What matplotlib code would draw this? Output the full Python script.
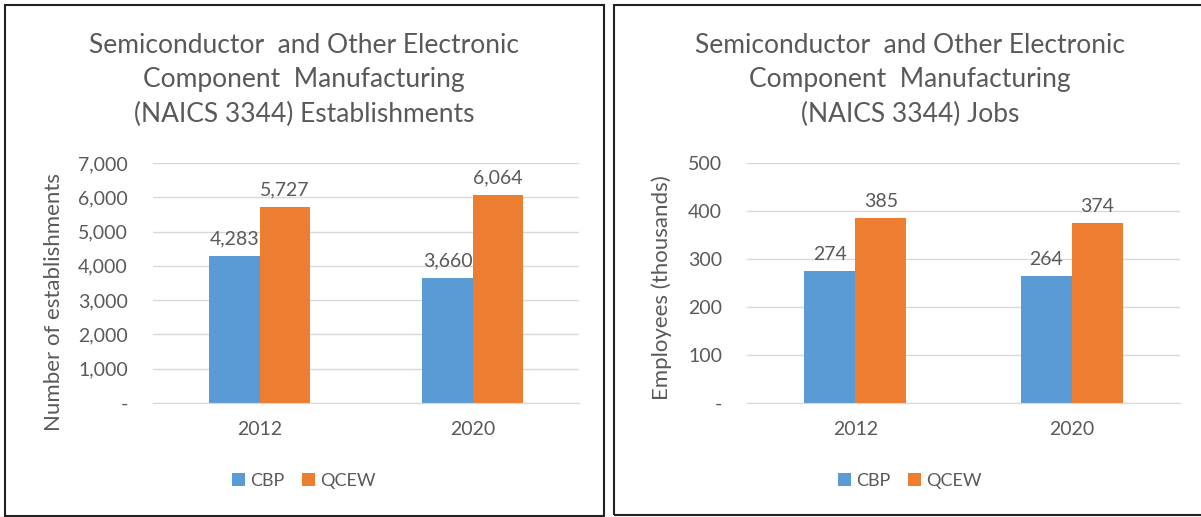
import matplotlib.pyplot as plt
import numpy as np
from matplotlib.patches import Rectangle
from matplotlib.ticker import FuncFormatter

years = ['2012', '2020']
series = ['CBP', 'QCEW']
est_cbp = [4283, 3660]
est_qcew = [5727, 6064]
jobs_cbp = [274, 264]
jobs_qcew = [385, 374]

blue = '#5B9BD5'
orange = '#ED7D31'
txt = '#595959'
grid = '#D9D9D9'

plt.rcParams['font.family'] = ['Lato', 'DejaVu Sans']

def fmt(v, pos):
	if v == 0:
		return '-'
	return '{:,.0f}'.format(v)

def draw(ax, cbp, qcew, ymax, step, ylabel, ylpos, title, tx):
	x = np.arange(len(years))
	w = 0.235
	b1 = ax.bar(x - w/2, cbp, w, color=blue, label=series[0])
	b2 = ax.bar(x + w/2, qcew, w, color=orange, label=series[1])
	for bars, vals in ((b1, cbp), (b2, qcew)):
		for r, v in zip(bars, vals):
			ax.annotate('{:,}'.format(v), (r.get_x() + r.get_width()/2, v),
						xytext=(0, 6), textcoords='offset points', ha='center', va='bottom',
						fontsize=14, color=txt)
	ax.set_xlim(-0.5, 1.5)
	ax.set_ylim(0, ymax)
	ax.set_yticks(np.arange(0, ymax + 1, step))
	ax.yaxis.set_major_formatter(FuncFormatter(fmt))
	ax.set_xticks(x)
	ax.set_xticklabels(years)
	ax.tick_params(axis='y', length=0, pad=18, labelsize=14, labelcolor=txt)
	ax.tick_params(axis='x', length=0, pad=13, labelsize=14, labelcolor=txt)
	ax.grid(axis='y', color=grid, linewidth=1)
	ax.set_axisbelow(True)
	for s in ['top', 'right', 'left']:
		ax.spines[s].set_visible(False)
	ax.spines['bottom'].set_color(grid)
	ax.set_ylabel(ylabel, fontsize=16, color=txt, va='center')
	ax.yaxis.set_label_coords(*ylpos)
	fig.text(tx, 1 - 80/517, title, ha='center', va='center', fontsize=19, color=txt, linespacing=1.45)
	h, l = ax.get_legend_handles_labels()
	fig.legend(h, l, loc='center', bbox_to_anchor=(tx, 1 - 481/517), ncol=2, frameon=False,
			   fontsize=13, labelcolor=txt, handlelength=0.7, handleheight=0.7,
			   handletextpad=0.3, columnspacing=1.0)

fig = plt.figure(figsize=(12.01, 5.17), dpi=100)

# panel frames
fig.patches.append(Rectangle((5/1201, 1 - 516/517), 599/1201, 511/517, transform=fig.transFigure,
							 fill=False, edgecolor='#222222', linewidth=1.5))
fig.patches.append(Rectangle((614/1201, 1 - 515/517), 590/1201, 510/517, transform=fig.transFigure,
							 fill=False, edgecolor='#222222', linewidth=1.5))

ax1 = fig.add_axes([153/1201, 114/517, 426/1201, 240/517])
ax2 = fig.add_axes([747/1201, 114/517, 433/1201, 240/517])

draw(ax1, est_cbp, est_qcew, 7000, 1000, 'Number of establishments', (-0.232, 0.42),
	 'Semiconductor  and Other Electronic\nComponent  Manufacturing\n(NAICS 3344) Establishments', 304/1201)
draw(ax2, jobs_cbp, jobs_qcew, 500, 100, 'Employees (thousands)', (-0.196, 0.48),
	 'Semiconductor  and Other Electronic\nComponent  Manufacturing\n(NAICS 3344) Jobs', 910/1201)

fig.savefig('out.png', dpi=100)
